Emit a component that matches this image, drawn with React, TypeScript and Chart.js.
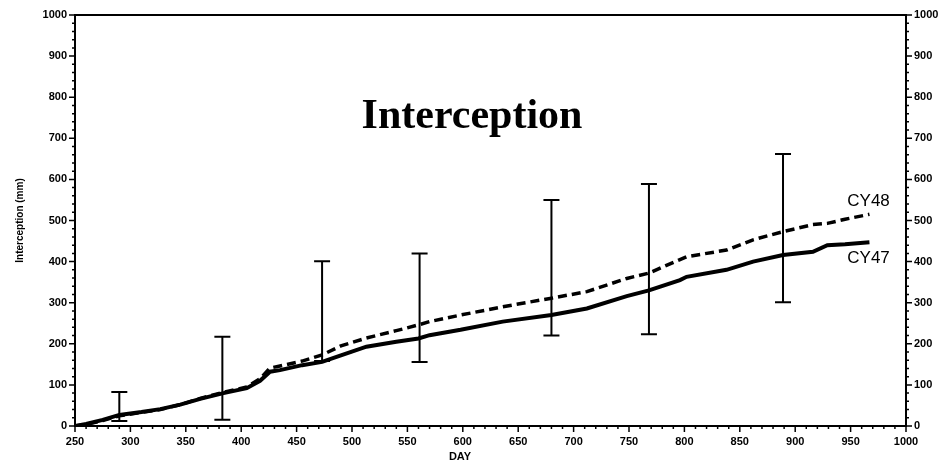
import React, { useEffect, useRef } from "react";
import { Chart, registerables } from "chart.js";

Chart.register(...registerables);

const days = [250, 260, 275, 290, 310, 327, 345, 363, 384, 405, 417, 426, 435, 455, 473, 490, 513, 540, 560, 570, 598, 636, 680, 712, 748, 768, 796, 802, 838, 862, 889, 916, 929, 945, 967];
const cy47 = [0, 5, 15, 27, 34, 41, 52, 66, 80, 92, 110, 132, 136, 148, 156, 172, 193, 205, 213, 221, 234, 254, 270, 286, 316, 330, 355, 363, 380, 400, 416, 424, 440, 442, 447];
const cy48 = [0, 4, 13, 25, 33, 40, 52, 67, 82, 95, 115, 141, 146, 158, 173, 195, 214, 232, 246, 254, 270, 290, 311, 327, 359, 372, 405, 412, 428, 453, 473, 490, 493, 503, 515];

const errDays = [290, 383, 473, 561, 680, 768, 889];
const errLow = [12, 15, 158, 156, 220, 223, 301];
const errHigh = [83, 217, 401, 420, 550, 589, 662];

const seriesNames = ["CY47", "CY48"];
const titleText = "Interception";
const xTitle = "DAY";
const yTitle = "Interception (mm)";

const SANS = "'Liberation Sans', Arial, sans-serif";

const decor = {
  id: "decor",
  afterDatasetsDraw(chart: any) {
    const { ctx, chartArea: a, scales } = chart;
    const xs = scales.x;
    const ys = scales.y;
    ctx.save();
    ctx.strokeStyle = "#000";
    ctx.fillStyle = "#000";
    // frame
    ctx.lineWidth = 2;
    ctx.strokeRect(a.left, a.top, a.right - a.left, a.bottom - a.top);
    // x ticks
    ctx.lineWidth = 1.5;
    for (let d = 250; d <= 1000; d += 10) {
      const px = xs.getPixelForValue(d);
      const len = d % 50 === 0 ? 6 : 3;
      ctx.beginPath();
      ctx.moveTo(px, a.bottom);
      ctx.lineTo(px, a.bottom + len);
      ctx.stroke();
    }
    // y ticks left and right
    for (let v = 0; v <= 1000; v += 20) {
      const py = ys.getPixelForValue(v);
      const len = v % 100 === 0 ? 6 : 3;
      ctx.beginPath();
      ctx.moveTo(a.left, py);
      ctx.lineTo(a.left - len, py);
      ctx.moveTo(a.right, py);
      ctx.lineTo(a.right + len, py);
      ctx.stroke();
    }
    // error bars
    ctx.lineWidth = 2;
    for (let i = 0; i < errDays.length; i++) {
      const px = xs.getPixelForValue(errDays[i]);
      const pl = ys.getPixelForValue(errLow[i]);
      const ph = ys.getPixelForValue(errHigh[i]);
      ctx.beginPath();
      ctx.moveTo(px, pl);
      ctx.lineTo(px, ph);
      ctx.moveTo(px - 8, pl);
      ctx.lineTo(px + 8, pl);
      ctx.moveTo(px - 8, ph);
      ctx.lineTo(px + 8, ph);
      ctx.stroke();
    }
    // series labels
    ctx.font = `17px ${SANS}`;
    ctx.textAlign = "left";
    ctx.textBaseline = "middle";
    ctx.fillText(seriesNames[1], xs.getPixelForValue(947), ys.getPixelForValue(547));
    ctx.fillText(seriesNames[0], xs.getPixelForValue(947), ys.getPixelForValue(409));
    // title
    ctx.font = `bold 42px 'Liberation Serif', 'Times New Roman', serif`;
    ctx.textAlign = "center";
    ctx.textBaseline = "alphabetic";
    ctx.fillText(titleText, 472, 128);
    // axis titles
    ctx.font = `bold 11px ${SANS}`;
    ctx.textAlign = "center";
    ctx.textBaseline = "middle";
    ctx.fillText(xTitle, 460, 457);
    ctx.translate(20, (a.top + a.bottom) / 2);
    ctx.rotate(-Math.PI / 2);
    ctx.font = `bold 10px ${SANS}`;
    ctx.fillText(yTitle, 0, 0);
    ctx.restore();
  },
};

const plainLabel = (v: any) => String(v);

export default function App() {
  const ref = useRef<HTMLCanvasElement>(null);
  useEffect(() => {
    document.body.style.margin = "0";
    const tickFont = { family: SANS, size: 11, weight: "bold" as const };
    const chart = new Chart(ref.current!, {
      type: "line",
      data: {
        datasets: [
          {
            label: seriesNames[0],
            data: days.map((d, i) => ({ x: d, y: cy47[i] })),
            borderColor: "#000",
            borderWidth: 4,
            pointRadius: 0,
            tension: 0,
            fill: false,
          },
          {
            label: seriesNames[1],
            data: days.map((d, i) => ({ x: d, y: cy48[i] })),
            borderColor: "#000",
            borderWidth: 3.5,
            borderDash: [9, 5],
            pointRadius: 0,
            tension: 0,
            fill: false,
          },
        ],
      },
      options: {
        responsive: false,
        animation: false,
        layout: { padding: { top: 15, left: 0, right: 0, bottom: 0 } },
        plugins: { legend: { display: false }, tooltip: { enabled: false } },
        scales: {
          x: {
            type: "linear",
            min: 250,
            max: 1000,
            grid: { display: false, drawTicks: false },
            border: { display: false },
            ticks: { stepSize: 50, color: "#000", font: tickFont, padding: 9, maxRotation: 0, autoSkip: false, callback: plainLabel },
            afterFit: (s: any) => { s.height = 38; },
          },
          y: {
            position: "left",
            min: 0,
            max: 1000,
            grid: { display: false, drawTicks: false },
            border: { display: false },
            ticks: { stepSize: 100, color: "#000", font: tickFont, padding: 8, callback: plainLabel },
            afterFit: (s: any) => { s.width = 75; },
          },
          y2: {
            position: "right",
            min: 0,
            max: 1000,
            grid: { display: false, drawTicks: false },
            border: { display: false },
            ticks: { stepSize: 100, color: "#000", font: tickFont, padding: 8, callback: plainLabel },
            afterFit: (s: any) => { s.width = 39; },
          },
        },
      },
      plugins: [decor],
    });
    return () => chart.destroy();
  }, []);
  return (
    <div style={{ width: 945, height: 464, background: "#fff" }}>
      <canvas ref={ref} width={945} height={464} style={{ display: "block" }} />
    </div>
  );
}
